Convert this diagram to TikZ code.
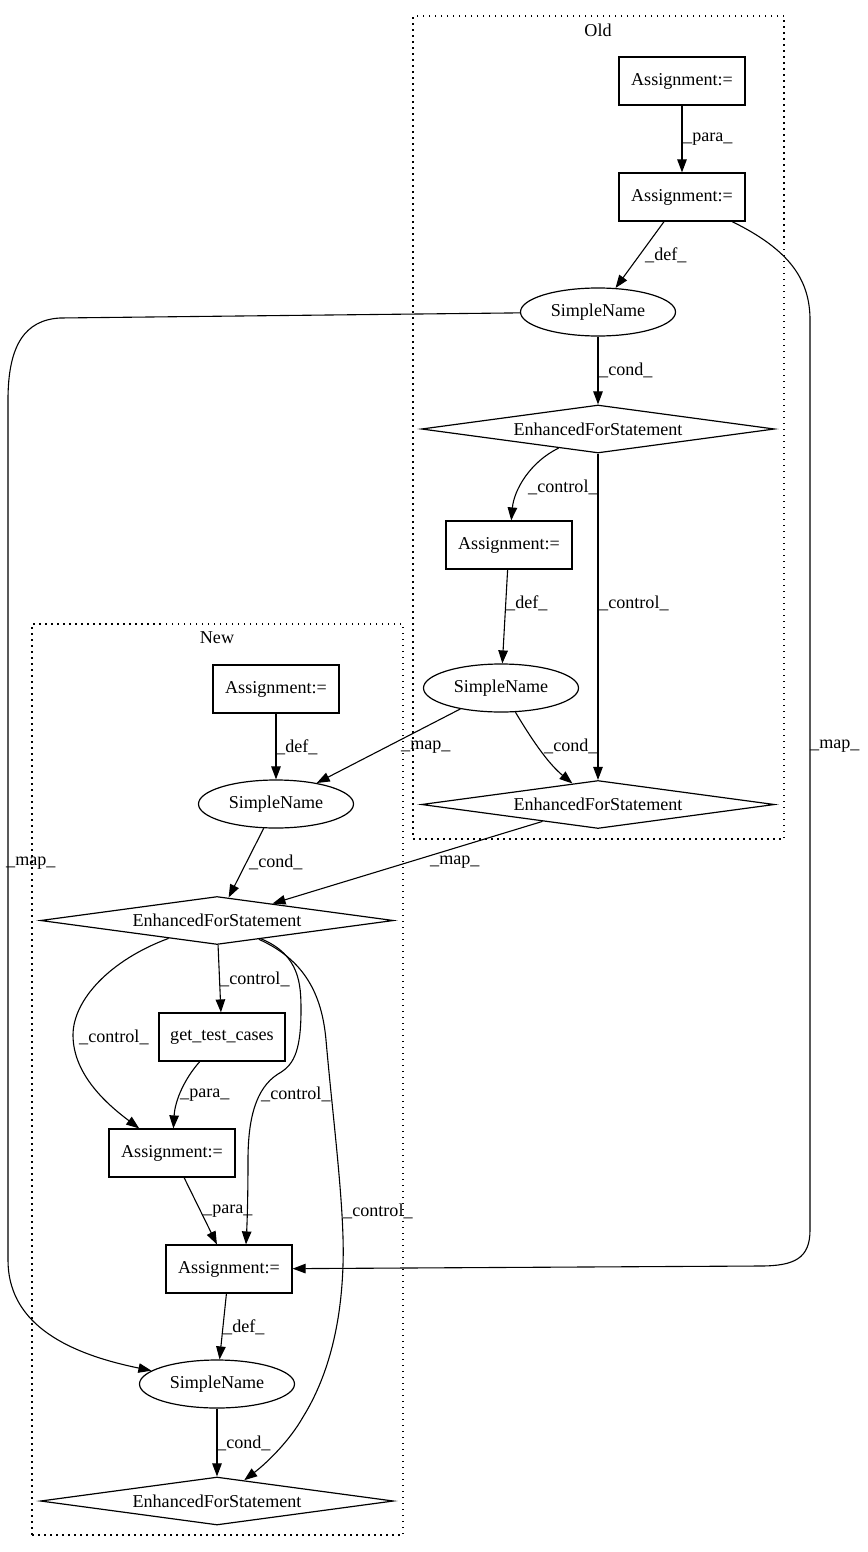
\documentclass[tikz,border=0pt]{standalone}
\usepackage{fontspec}
\setmainfont{Liberation Serif}
\usetikzlibrary{shapes.geometric,arrows.meta}
\begin{document}
\begin{tikzpicture}[x=1pt,y=-1pt,font=\fontsize{18.1}{21}\selectfont,
  box/.style={draw,rectangle,line width=1.2pt,minimum width=126pt,minimum height=48pt,inner sep=0pt},
  ell/.style={draw,ellipse,line width=1.2pt,minimum width=155pt,minimum height=48pt,inner sep=0pt},
  dia/.style={draw,diamond,line width=1.2pt,aspect=7.35,minimum width=353pt,minimum height=48pt,inner sep=0pt},
  edge/.style={-{Triangle[length=13pt,width=9.5pt]},line width=1.1pt},
  lbl/.style={anchor=west,inner sep=0pt},
  cluster/.style={draw,dash pattern=on 1.5pt off 4.5pt,line width=1.2pt,inner sep=0pt}]
\path[use as bounding box] (0,0) rectangle (867,1552);
% clusters
\node[cluster,minimum width=371pt,minimum height=823pt] (old) at (598.5,427.5) {};
\node (oldlbl) at (598,30) {Old};
\node[cluster,minimum width=371pt,minimum height=911pt] (new) at (217.5,1079.5) {};
\node (newlbl) at (217,638) {New};
% nodes
\node[box] (a1) at (682,81) {Assignment:=};
\node[box] (a2) at (682,197) {Assignment:=};
\node[ell] (s1) at (598,312) {SimpleName};
\node[dia] (e1) at (598,429) {EnhancedForStatement};
\node[box] (a3) at (509,545) {Assignment:=};
\node[ell] (s2) at (501,688) {SimpleName};
\node[dia] (e2) at (598,804.5) {EnhancedForStatement};
\node[box] (a4) at (276,689) {Assignment:=};
\node[ell] (s3) at (276,804) {SimpleName};
\node[dia] (e3) at (217,920.5) {EnhancedForStatement};
\node[box] (g) at (222,1037) {get\_test\_cases};
\node[box] (a5) at (172,1153) {Assignment:=};
\node[box] (a6) at (229,1269) {Assignment:=};
\node[ell] (s4) at (217,1384) {SimpleName};
\node[dia] (e4) at (217,1501) {EnhancedForStatement};
% edges
\draw[edge] (a1) -- (a2);
\draw[edge] (a2) -- (s1);
\draw[edge] (s1) -- (e1);
\draw[edge] (e1) .. controls (530,462) and (514,490) .. (a3);
\draw[edge] (e1) -- (e2);
\draw[edge] (a3) -- (s2);
\draw[edge] (s2) .. controls (535,745) and (550,765) .. (e2);
\draw[edge] (s2) -- (s3);
\draw[edge] (a4) -- (s3);
\draw[edge] (s3) -- (e3);
\draw[edge] (e2) -- (e3);
\draw[edge] (e3) -- (g);
\draw[edge] (e3) .. controls (110,960) and (73,1000) .. (73,1035) .. controls (73,1075) and (108,1105) .. (a5);
\draw[edge] (g) .. controls (185,1078) and (175,1100) .. (a5);
\draw[edge] (e3) .. controls (300,955) and (301,985) .. (301,1010) .. controls (301,1055) and (292,1066) .. (278,1074) .. controls (256,1088) and (248,1118) .. (248,1160) .. controls (248,1200) and (247,1225) .. ([xshift=17pt]a6.north);
\draw[edge] (e3) .. controls (305,960) and (322,995) .. (326,1040) .. controls (333,1120) and (345,1210) .. (343,1265) .. controls (341,1330) and (326,1380) .. (303,1417) .. controls (290,1440) and (268,1462) .. (e4);
\draw[edge] (a5) -- (a6);
\draw[edge] (a6) -- (s4);
\draw[edge] (s4) -- (e4);
\draw[edge] (a2) .. controls (790,250) and (810,280) .. (810,320) -- (810,1230) .. controls (810,1258) and (795,1266) .. (760,1266) -- (a6);
\draw[edge] (s1) -- (60,318) .. controls (25,320) and (8,345) .. (8,400) -- (8,1260) .. controls (8,1320) and (60,1352) .. (s4);
% labels
\node[lbl] (l1) at (683,139) {\_para\_};
\node[lbl] (l2) at (645,255) {\_def\_};
\node[lbl] (l3) at (599,370) {\_cond\_};
\node[lbl] (l4) at (528,487) {\_control\_};
\node[lbl] (l5) at (599,603) {\_control\_};
\node[lbl] (l6) at (506,603) {\_def\_};
\node[lbl] (l7) at (544,746) {\_cond\_};
\node[lbl] (l8) at (401,747) {\_map\_};
\node[lbl] (l9) at (810,746) {\_map\_};
\node[lbl] (l10) at (276,747) {\_def\_};
\node[lbl] (l11) at (249,862) {\_cond\_};
\node[lbl] (l12) at (6,863) {\_map\_};
\node[lbl] (l13) at (430,862) {\_map\_};
\node[lbl] (l14) at (220,979) {\_control\_};
\node[lbl] (l15) at (79,1037) {\_control\_};
\node[lbl] (l16) at (180,1095) {\_para\_};
\node[lbl] (l17) at (261,1094) {\_control\_};
\node[lbl] (l18) at (203,1211) {\_para\_};
\node[lbl] (l19) at (343,1211) {\_control\_};
\node[lbl] (l20) at (223,1327) {\_def\_};
\node[lbl] (l21) at (217,1443) {\_cond\_};
\end{tikzpicture}
\end{document}
